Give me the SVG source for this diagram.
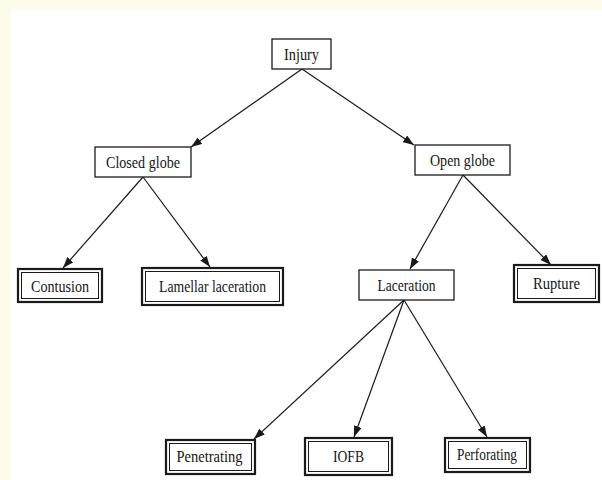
<svg xmlns="http://www.w3.org/2000/svg" width="602" height="480" viewBox="0 0 602 480">
<style>
.bg{fill:#ffffff}
.single{fill:#ffffff;stroke:#1a1a1a;stroke-width:1.3}
.outer{fill:#ffffff;stroke:#1a1a1a;stroke-width:2.2}
.inner{fill:none;stroke:#1a1a1a;stroke-width:1}
.lbl{font-family:"Liberation Serif","DejaVu Serif",serif;font-size:16.5px;fill:#151515;text-anchor:middle}
.edge{stroke:#1a1a1a;stroke-width:1.2;fill:none;marker-end:url(#ah)}
</style>
<defs>
<marker id="ah" markerWidth="11" markerHeight="8" refX="11" refY="4" orient="auto" markerUnits="userSpaceOnUse">
<path d="M0,0 L11,4 L0,8 Z" fill="#1a1a1a"/>
</marker>
</defs>
<rect x="0" y="0" width="602" height="480" fill="#fdfbe9"/>
<rect x="10" y="9" width="592" height="471" class="bg"/>
<g id="connectors">
<line class="edge" x1="302" y1="69" x2="191" y2="147"/>
<line class="edge" x1="302" y1="69" x2="414" y2="145"/>
<line class="edge" x1="143" y1="177" x2="63" y2="268"/>
<line class="edge" x1="143" y1="177" x2="210" y2="267"/>
<line class="edge" x1="463" y1="175" x2="410" y2="269"/>
<line class="edge" x1="463" y1="175" x2="551" y2="265"/>
<line class="edge" x1="404" y1="300" x2="254" y2="439"/>
<line class="edge" x1="404" y1="300" x2="354" y2="437"/>
<line class="edge" x1="404" y1="300" x2="487" y2="437"/>
</g>
<g id="injury">
<rect class="single" x="272" y="39" width="59" height="30"/>
<text class="lbl" x="301.5" y="59.5" textLength="35" lengthAdjust="spacingAndGlyphs">Injury</text>
</g>
<g id="closed-globe">
<rect class="single" x="95" y="147" width="96" height="30"/>
<text class="lbl" x="143" y="167.5" textLength="74" lengthAdjust="spacingAndGlyphs">Closed globe</text>
</g>
<g id="open-globe">
<rect class="single" x="415" y="145" width="95" height="30"/>
<text class="lbl" x="462.5" y="165.5" textLength="65" lengthAdjust="spacingAndGlyphs">Open globe</text>
</g>
<g id="contusion">
<rect class="outer" x="18" y="269" width="84" height="33"/>
<rect class="inner" x="21.5" y="272.5" width="77" height="26"/>
<text class="lbl" x="60" y="291.5" textLength="58" lengthAdjust="spacingAndGlyphs">Contusion</text>
</g>
<g id="lamellar-laceration">
<rect class="outer" x="142" y="268" width="141" height="37"/>
<rect class="inner" x="145.5" y="271.5" width="134" height="30"/>
<text class="lbl" x="212.5" y="292" textLength="107" lengthAdjust="spacingAndGlyphs">Lamellar laceration</text>
</g>
<g id="laceration">
<rect class="single" x="359" y="270" width="95" height="30"/>
<text class="lbl" x="406.5" y="290.5" textLength="58" lengthAdjust="spacingAndGlyphs">Laceration</text>
</g>
<g id="rupture">
<rect class="outer" x="514" y="265" width="85" height="37"/>
<rect class="inner" x="517.5" y="268.5" width="78" height="30"/>
<text class="lbl" x="556.5" y="289" textLength="47" lengthAdjust="spacingAndGlyphs">Rupture</text>
</g>
<g id="penetrating">
<rect class="outer" x="166" y="440" width="89" height="34"/>
<rect class="inner" x="169.5" y="443.5" width="82" height="27"/>
<text class="lbl" x="209.5" y="462" textLength="66" lengthAdjust="spacingAndGlyphs">Penetrating</text>
</g>
<g id="iofb">
<rect class="outer" x="305" y="438" width="87" height="37"/>
<rect class="inner" x="308.5" y="441.5" width="80" height="30"/>
<text class="lbl" x="348.5" y="462" textLength="31" lengthAdjust="spacingAndGlyphs">IOFB</text>
</g>
<g id="perforating">
<rect class="outer" x="445" y="438" width="85" height="34"/>
<rect class="inner" x="448.5" y="441.5" width="78" height="27"/>
<text class="lbl" x="487" y="460" textLength="60" lengthAdjust="spacingAndGlyphs">Perforating</text>
</g>
</svg>
